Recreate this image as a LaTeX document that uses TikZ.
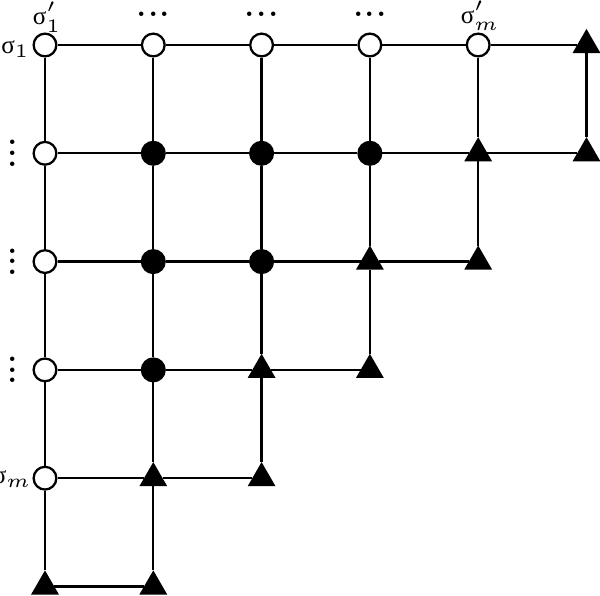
\documentclass[tikz,border=0pt]{standalone}
\usepackage{fontspec}
\newfontfamily\greekfont{Liberation Serif}
\usetikzlibrary{shapes.geometric,positioning}

\newcommand{\sig}{\mbox{\greekfont σ}}
\newcommand{\rowdots}{\hbox{\large.\kern-0.2pt.\kern-0.2pt.}}
\newcommand{\coldots}{\vbox{\large\baselineskip2.8pt\lineskiplimit0pt\hbox{.}\hbox{.}\hbox{.}}}

\begin{document}
\begin{tikzpicture}[x=1cm,y=-1cm,line width=0.6pt,
    tag/.style={font=\fontsize{6.6}{8}\selectfont,inner sep=0pt},
    open site/.style={circle,draw,fill=white,minimum size=0.21cm,inner sep=0pt},
    full site/.style={circle,draw,fill=black,minimum size=0.21cm,inner sep=0pt},
    corner/.style={regular polygon,regular polygon sides=3,draw,fill=black,
      minimum size=0.255cm,inner sep=0pt}]
    \useasboundingbox (-0.4155,-0.4155) rectangle (5.125,5.079);
    % first row
    \node [open site] (n00) at (0,0) {};
    \node [open site] (n10) at (1,0) {};
    \node [open site] (n20) at (2,0) {};
    \node [open site] (n30) at (3,0) {};
    \node [open site] (n40) at (4,0) {};
    \node [corner]    (n50) at (5,0) {};
    % second row
    \node [open site] (n01) at (0,1) {};
    \node [full site] (n11) at (1,1) {};
    \node [full site] (n21) at (2,1) {};
    \node [full site] (n31) at (3,1) {};
    \node [corner]    (n41) at (4,1) {};
    \node [corner]    (n51) at (5,1) {};
    % third row
    \node [open site] (n02) at (0,2) {};
    \node [full site] (n12) at (1,2) {};
    \node [full site] (n22) at (2,2) {};
    \node [corner]    (n32) at (3,2) {};
    \node [corner]    (n42) at (4,2) {};
    % fourth row
    \node [open site] (n03) at (0,3) {};
    \node [full site] (n13) at (1,3) {};
    \node [corner]    (n23) at (2,3) {};
    \node [corner]    (n33) at (3,3) {};
    % last rows
    \node [open site] (n04) at (0,4) {};
    \node [corner]    (n14) at (1,4) {};
    \node [corner]    (n24) at (2,4) {};
    \node [corner]    (n05) at (0,5) {};
    \node [corner]    (n15) at (1,5) {};

    % rows
    \draw (n00) -- (n10) -- (n20) -- (n30) -- (n40) -- (n50);
    \draw (n01) -- (n11) -- (n21) -- (n31) -- (n41) -- (n51);
    \draw (n02) -- (n12) -- (n22) -- (n32) -- (n42);
    \draw (n03) -- (n13) -- (n23) -- (n33);
    \draw (n04) -- (n14) -- (n24);
    \draw (n05) -- (n15);
    % columns
    \draw (n00) -- (n01) -- (n02) -- (n03) -- (n04) -- (n05);
    \draw (n10) -- (n11) -- (n12) -- (n13) -- (n14) -- (n15);
    \draw (n20) -- (n21) -- (n22) -- (n23) -- (n24);
    \draw (n30) -- (n31) -- (n32) -- (n33);
    \draw (n40) -- (n41) -- (n42);
    \draw (n50) -- (n51);

    % labels
    \node [tag,anchor=base] (top1) at (0.02,-0.19) {$\sig'_1$};
    \node [tag] (dots1) at (1,-0.286) {\rowdots};
    \node [tag] (dots2) at (2,-0.286) {\rowdots};
    \node [tag] (dots3) at (3,-0.286) {\rowdots};
    \node [tag,anchor=base] (topm) at (4.02,-0.2) {$\sig'_m$};
    \node [tag,anchor=base east] (left1) at (-0.13,0.08) {$\sig_1$};
    \node [tag] (vdots1) at (-0.295,1) {\coldots};
    \node [tag] (vdots2) at (-0.295,2) {\coldots};
    \node [tag] (vdots3) at (-0.295,3) {\coldots};
    \node [tag,anchor=base east] (leftm) at (-0.112,4.05) {$\sig_m$};
\end{tikzpicture}
\end{document}
